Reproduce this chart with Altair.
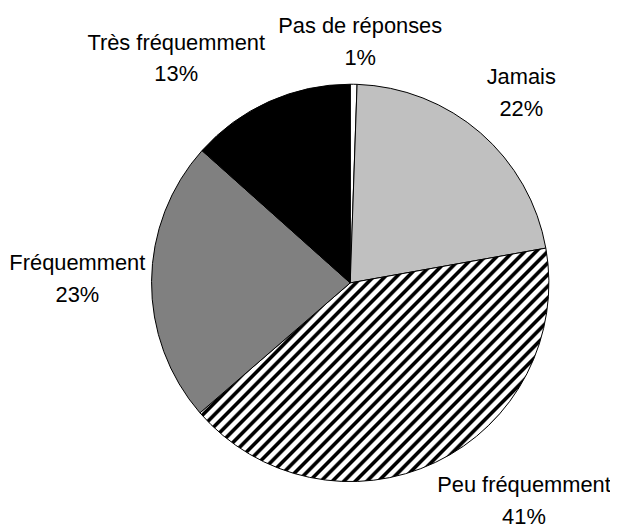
import math
import altair as alt
import pandas as pd

# ---- data ----
categories = ["Pas de réponses", "Jamais", "Peu fréquemment", "Fréquemment", "Très fréquemment"]
values = [0.55, 21.65, 41.45, 22.95, 13.4]
fills = ["#FFFFFF", "#C0C0C0", "#FFFFFF", "#808080", "#000000"]
striped = "Peu fréquemment"

# ---- label layout (Excel-style placement around the pie) ----
label_shift_deg = [1.3, -0.25, -14.2, 2.25, -12.6]   # shift from slice mid-angle
label_radius = [252, 264, 274, 275, 293]              # px from pie centre

PIE_R = 200

total = sum(values)
rows = []
cum = 0.0
for i, (c, v) in enumerate(zip(categories, values)):
    mid = (cum + v / 2) / total * 360
    cum += v
    rows.append(dict(idx=i, cat=c, value=v,
                     label=f"{c}\n{v:.0f}%",
                     lt=math.radians(mid + label_shift_deg[i]),
                     lr=label_radius[i]))
df = pd.DataFrame(rows)

# ---- diagonal hatch as a hard-stop linear gradient ----
w_bb, h_bb = 352.5, 232.7          # approx. bounding box of the hatched slice
period = 8.2                       # stripe period (px, perpendicular)
r = h_bb / w_bb
kk = (1 + r) / (1 + r * r)
dt = period * math.sqrt(2) / (w_bb + h_bb)
pattern = [(0.0, "#FFFFFF"), (0.28, "#FFFFFF"), (0.43, "#000000"),
           (0.72, "#000000"), (0.87, "#FFFFFF")]
stops = []
k = 0
while True:
    done = False
    for f, col in pattern:
        off = (k + f) * dt
        if off > 1:
            done = True
            break
        stops.append({"offset": round(off, 5), "color": col})
    if done:
        break
    k += 1
hatch = {"gradient": "linear", "x1": 0, "y1": 0, "x2": kk, "y2": kk * r, "stops": stops}

fill = alt.condition(
    alt.datum.cat == striped,
    alt.value(hatch),
    alt.Fill("cat:N", scale=alt.Scale(domain=categories, range=fills), legend=None),
)

pie = alt.Chart(df).mark_arc(outerRadius=PIE_R, stroke="#000000", strokeWidth=1).encode(
    theta=alt.Theta("value:Q", stack=True),
    order=alt.Order("idx:Q"),
    fill=fill,
)

labels = alt.Chart(df).mark_text(
    font="Liberation Sans", fontSize=22, lineBreak="\n", lineHeight=32,
    align="center", baseline="alphabetic", color="#000000",
).encode(
    theta=alt.Theta("lt:Q", scale=None, stack=False),
    radius=alt.Radius("lr:Q", scale=None),
    text="label:N",
)

chart = alt.layer(pie, labels).resolve_scale(
    theta="independent", radius="independent"
).properties(
    width=489, height=450,
    padding={"left": 100, "top": 50, "right": 17, "bottom": 20},
    autosize=alt.AutoSizeParams(type="none"),
).configure_view(strokeWidth=0)

chart.save("out.html", embed_options={"renderer": "svg", "actions": False})
